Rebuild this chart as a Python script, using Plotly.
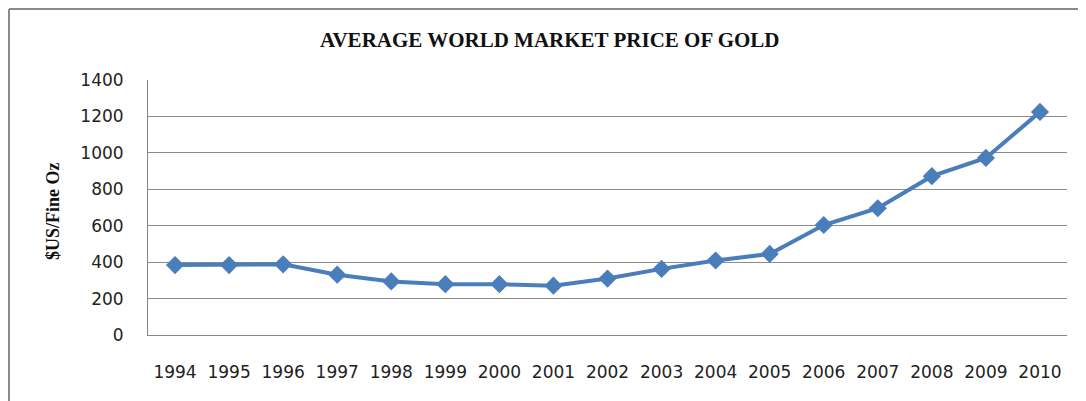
import plotly.graph_objects as go

years = [str(y) for y in range(1994, 2011)]
prices = [384, 384, 388, 331, 294, 279, 279, 271, 310, 363, 409, 445, 604, 696, 872, 972, 1225]
y_ticks = [0, 200, 400, 600, 800, 1000, 1200, 1400]
title_text = "AVERAGE WORLD MARKET PRICE OF GOLD"
y_title = "$US/Fine Oz"

# page body has an 8px margin; work in screen coordinates and offset
OFF = 8
W, H = 1086 - OFF, 401 - OFF
L, R, T, B = 148 - OFF, 19, 80 - OFF, 66
pw, ph = W - L - R, H - T - B

def px(x):
    return (x - OFF - L) / pw

def py(y):
    return (H - B - (y - OFF)) / ph

fig = go.Figure()
fig.add_trace(go.Scatter(
    x=years, y=prices, mode="lines+markers",
    line=dict(color="#4A7EBB", width=4),
    marker=dict(symbol="diamond", size=14, color="#4A7EBB"),
    showlegend=False, hoverinfo="x+y",
))

fig.update_layout(
    width=W, height=H,
    margin=dict(l=L, r=R, t=T, b=B),
    paper_bgcolor="white", plot_bgcolor="white",
    xaxis=dict(
        type="category", range=[-0.5, len(years) - 0.5],
        showgrid=False, showline=True, linecolor="#868686", linewidth=1,
        ticks="", tickfont=dict(family="DejaVu Sans", size=17, color="#222"),
        ticklabelstandoff=22, fixedrange=True,
    ),
    yaxis=dict(
        range=[0, 1400], tickvals=y_ticks, showgrid=True, gridcolor="#8c8c8c", gridwidth=1,
        showline=True, linecolor="#868686", linewidth=1, zeroline=False,
        ticks="", tickfont=dict(family="DejaVu Sans", size=17, color="#222"),
        ticklabelstandoff=20, fixedrange=True,
    ),
    annotations=[
        dict(text="<b>" + title_text + "</b>", xref="paper", yref="paper",
             x=px(550), y=py(40), xanchor="center", yanchor="middle", showarrow=False,
             font=dict(family="Liberation Serif", size=21, color="#111")),
        dict(text="<b>" + y_title + "</b>", xref="paper", yref="paper",
             x=px(53), y=py(211), xanchor="center", yanchor="middle", showarrow=False,
             textangle=-90, font=dict(family="Liberation Serif", size=18, color="#111")),
    ],
    shapes=[
        dict(type="line", xref="paper", yref="paper", x0=px(9), x1=px(1090), y0=py(9), y1=py(9),
             line=dict(color="#8a8a8a", width=2)),
        dict(type="line", xref="paper", yref="paper", x0=px(9), x1=px(9), y0=py(9), y1=py(405),
             line=dict(color="#8a8a8a", width=2)),
    ],
)

fig.write_html("out.html")
